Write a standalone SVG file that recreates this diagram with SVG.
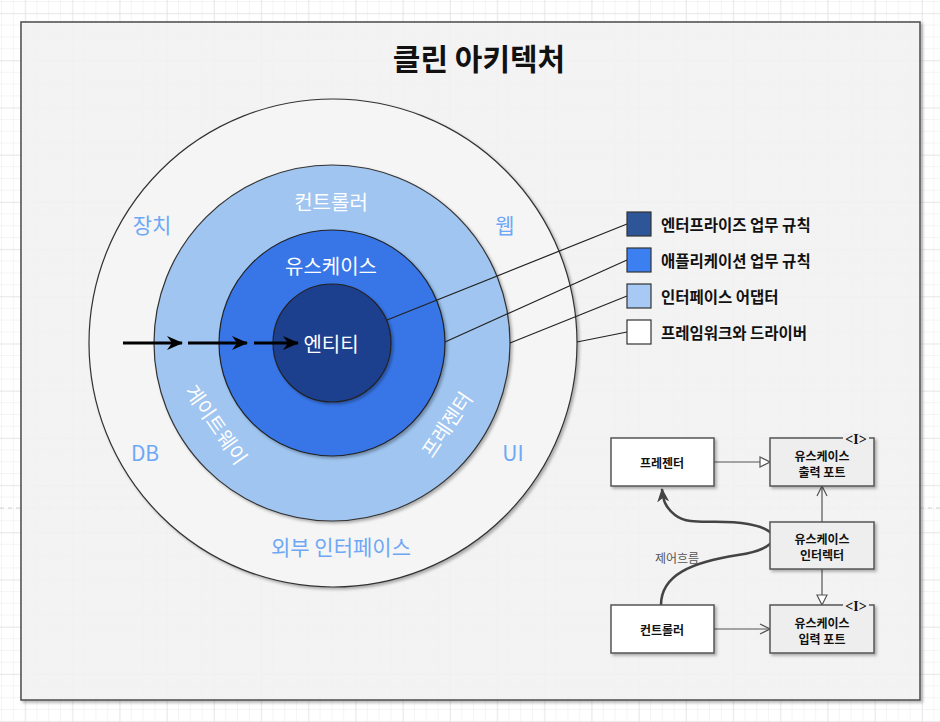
<svg xmlns="http://www.w3.org/2000/svg" width="940" height="722" viewBox="0 0 940 722">
<defs>
<pattern id="minor" width="11.8" height="11.8" patternUnits="userSpaceOnUse" x="2" y="2">
<path d="M11.8 0 V11.8 M0 11.8 H11.8" fill="none" stroke="#ececec" stroke-width="1"/>
</pattern>
<pattern id="major" width="47.2" height="47.2" patternUnits="userSpaceOnUse" x="-21" y="-33">
<path d="M47.2 0 V47.2 M0 47.2 H47.2" fill="none" stroke="#dcdcdc" stroke-width="1"/>
</pattern>
<filter id="sh" x="-10%" y="-10%" width="130%" height="130%">
<feDropShadow dx="2" dy="2" stdDeviation="1.5" flood-color="#000" flood-opacity="0.3"/>
</filter>
<marker id="classic" viewBox="0 0 16 14" refX="15" refY="7" markerWidth="16" markerHeight="14" markerUnits="userSpaceOnUse" orient="auto">
<path d="M0 0 L16 7 L0 14 L5 7 Z" fill="#000"/>
</marker>
<marker id="flow" viewBox="0 0 14 12" refX="13" refY="6" markerWidth="14" markerHeight="12" markerUnits="userSpaceOnUse" orient="auto">
<path d="M0 0 L14 6 L0 12 L4 6 Z" fill="#444"/>
</marker>
<marker id="tri" viewBox="0 0 12 12" refX="11" refY="6" markerWidth="12" markerHeight="12" markerUnits="userSpaceOnUse" orient="auto">
<path d="M1 1 L11 6 L1 11 Z" fill="#fff" stroke="#555" stroke-width="1.2"/>
</marker>
<marker id="open" viewBox="0 0 12 12" refX="11" refY="6" markerWidth="12" markerHeight="12" markerUnits="userSpaceOnUse" orient="auto">
<path d="M1 1 L11 6 L1 11" fill="none" stroke="#555" stroke-width="1.2"/>
</marker>
</defs>
<style>
text { font-family: "Noto Sans CJK KR", "Noto Sans", "Liberation Sans", sans-serif; }
.ring { fill: #ffffff; font-size: 20px; text-anchor: middle; dominant-baseline: central; }
.outer { fill: #6ea8f5; font-size: 21px; text-anchor: middle; dominant-baseline: central; }
.leg { fill: #111; font-size: 15.5px; font-weight: bold; dominant-baseline: central; }
.lbox { stroke: #333; stroke-width: 1.2; }
.cls { fill: #eeeeee; stroke: #555; stroke-width: 1.5; filter: url(#sh); }
.obj { fill: #ffffff; stroke: #555; stroke-width: 1.5; filter: url(#sh); }
.ct { fill: #111; font-size: 12px; font-weight: bold; text-anchor: middle; dominant-baseline: central; }
.iface { font-family: "Liberation Serif", serif; font-size: 14px; font-weight: bold; fill: #111; text-anchor: middle; dominant-baseline: central; }
.conn { stroke: #555; stroke-width: 1.2; fill: none; }
.leader { stroke: #222; stroke-width: 1.2; fill: none; }
.bold-arrow { stroke: #000; stroke-width: 3; marker-end: url(#classic); }
</style>
<rect width="940" height="722" fill="#ffffff"/>
<rect width="940" height="722" fill="url(#minor)"/>
<rect width="940" height="722" fill="url(#major)"/>
<line x1="0" y1="508" x2="940" y2="508" stroke="#cfcfcf" stroke-dasharray="4 4"/>
<g id="frame">
<rect x="21" y="22" width="899" height="678" fill="#f5f5f5" fill-opacity="0.9" stroke="#555" stroke-width="1.6" filter="url(#sh)"/>
<text x="479" y="57" font-size="30" font-weight="bold" text-anchor="middle" dominant-baseline="central" fill="#111">클린 아키텍처</text>
</g>
<g id="circles">
<circle id="c-outer" cx="333" cy="343" r="244" fill="#f5f5f5" stroke="#333" stroke-width="1.2" filter="url(#sh)"/>
<circle id="c-adapter" cx="332" cy="343" r="178" fill="#9fc5f0" stroke="#333" stroke-width="1.2" filter="url(#sh)"/>
<circle id="c-usecase" cx="332" cy="343" r="113" fill="#3776e8" stroke="#222" stroke-width="1.2" filter="url(#sh)"/>
<circle id="c-entity" cx="332" cy="343" r="59" fill="#1b3f8e" stroke="#222" stroke-width="1.2" filter="url(#sh)"/>
</g>
<g id="ring-labels">
<text class="ring" x="331" y="201">컨트롤러</text>
<text class="ring" x="331" y="265">유스케이스</text>
<text class="ring" x="331" y="343">엔티티</text>
<text class="ring" transform="translate(217 424) rotate(55)" x="0" y="0">게이트웨이</text>
<text class="ring" transform="translate(446 424) rotate(-56)" x="0" y="0">프레젠터</text>
<text class="outer" x="152" y="224">장치</text>
<text class="outer" x="505" y="224">웹</text>
<text class="outer" x="145" y="452">DB</text>
<text class="outer" x="513" y="452">UI</text>
<text class="outer" x="341" y="546">외부 인터페이스</text>
</g>
<g id="connectors">
<line class="bold-arrow" x1="123" y1="343" x2="182" y2="343"/>
<line class="bold-arrow" x1="188" y1="343" x2="247" y2="343"/>
<line class="bold-arrow" x1="254" y1="343" x2="298" y2="343"/>
<line class="leader" x1="387" y1="320" x2="627" y2="224"/>
<line class="leader" x1="445" y1="342" x2="627" y2="260"/>
<line class="leader" x1="510" y1="343" x2="627" y2="296"/>
<line class="leader" x1="577" y1="342" x2="627" y2="332"/>
<line class="conn" x1="713" y1="462" x2="770" y2="462" marker-end="url(#tri)"/>
<line class="conn" x1="822" y1="522" x2="822" y2="486" marker-end="url(#open)"/>
<line class="conn" x1="822" y1="569" x2="822" y2="605" marker-end="url(#tri)"/>
<line class="conn" x1="713" y1="629" x2="770" y2="629" marker-end="url(#open)"/>
<path d="M 661 605 C 661 575, 692 562, 738 555 C 783 548, 783 530, 748 524 C 716 518, 690 527, 675 515 C 665 507, 663 500, 662 489" fill="none" stroke="#444" stroke-width="2.5" marker-end="url(#flow)"/>
</g>
<g id="legend">
<g id="leg-entity"><rect class="lbox" x="627" y="212" width="24" height="24" fill="#2d5597"/><text class="leg" x="661" y="224">엔터프라이즈 업무 규칙</text></g>
<g id="leg-usecase"><rect class="lbox" x="627" y="248" width="24" height="24" fill="#3b7ff0"/><text class="leg" x="661" y="260">애플리케이션 업무 규칙</text></g>
<g id="leg-adapter"><rect class="lbox" x="627" y="284" width="24" height="24" fill="#a8c9f3"/><text class="leg" x="661" y="296">인터페이스 어댑터</text></g>
<g id="leg-framework"><rect class="lbox" x="627" y="320" width="24" height="24" fill="#ffffff"/><text class="leg" x="661" y="332">프레임워크와 드라이버</text></g>
</g>
<g id="presenter"><rect class="obj" x="611" y="438" width="103" height="48"/><text class="ct" x="662" y="462">프레젠터</text></g>
<g id="output-port"><rect class="cls" x="770" y="438" width="104" height="48"/><rect x="843" y="433" width="26" height="11" fill="#eeeeee"/><text class="iface" x="856" y="439">&lt;I&gt;</text><text class="ct" x="822" y="455">유스케이스</text><text class="ct" x="822" y="471">출력 포트</text></g>
<g id="interactor"><rect class="cls" x="770" y="522" width="104" height="47"/><text class="ct" x="822" y="538">유스케이스</text><text class="ct" x="822" y="554">인터렉터</text></g>
<g id="controller"><rect class="obj" x="611" y="605" width="103" height="48"/><text class="ct" x="662" y="629">컨트롤러</text></g>
<g id="input-port"><rect class="cls" x="770" y="605" width="104" height="48"/><rect x="843" y="600" width="26" height="11" fill="#eeeeee"/><text class="iface" x="856" y="606">&lt;I&gt;</text><text class="ct" x="822" y="622">유스케이스</text><text class="ct" x="822" y="638">입력 포트</text></g>
<g id="flow-label"><text x="677" y="557" font-size="12" fill="#555" text-anchor="middle" dominant-baseline="central">제어흐름</text></g>
</svg>
